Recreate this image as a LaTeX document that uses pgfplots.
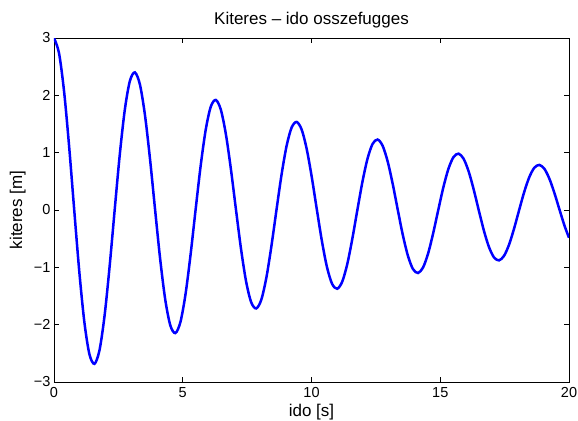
\documentclass[border=0pt]{standalone}
\usepackage{fontspec}
\setmainfont{Liberation Sans}
\usepackage{pgfplots}
\pgfplotsset{compat=1.18}
\begin{document}
\begin{tikzpicture}
\path[use as bounding box] (-54bp,-39bp) rectangle (524bp,382bp);
\begin{axis}[
  scale only axis, width=515bp, height=344bp,
  at={(0,0)}, anchor=south west,
  xmin=0, xmax=20, ymin=-3, ymax=3,
  xtick={0,5,10,15,20}, xticklabels={0,5,10,15,20},
  ytick={-3,-2,-1,0,1,2,3}, yticklabels={−3,−2,−1,0,1,2,3},
  tick align=inside, major tick length=5bp,
  axis line style={line width=0.8bp, black},
  every tick/.style={black, line width=0.8bp},
  tick label style={font=\fontsize{14.5bp}{17bp}\selectfont},
  xticklabel style={yshift=-2bp},
  label style={font=\fontsize{17bp}{20bp}\selectfont},
  title style={font=\fontsize{17bp}{20bp}\selectfont, at={(axis description cs:0.5,1.0233)}, anchor=base},
  xlabel style={at={(axis description cs:0.5,-0.1017)}, anchor=base},
  ylabel style={at={(axis description cs:-0.0621,0.5)}, anchor=base},
  title={Kiteres – ido osszefugges},
  xlabel={ido [s]},
  ylabel={kiteres [m]},
]
\addplot[color={rgb,1:red,0;green,0;blue,1}, line width=2.5bp, smooth] coordinates {
(0,3) (0.19635,2.733) (0.39270,2.063) (0.58905,1.101) (0.78540,0) (0.98175,-1.071) (1.17810,-1.951) (1.37445,-2.514)
(1.57080,-2.683) (1.76715,-2.445) (1.96350,-1.845) (2.15984,-0.985) (2.35619,0) (2.55254,0.958) (2.74889,1.745) (2.94524,2.248)
(3.14159,2.4) (3.33794,2.187) (3.53429,1.650) (3.73064,0.881) (3.92699,0) (4.12334,-0.857) (4.31969,-1.561) (4.51604,-2.011)
(4.71239,-2.147) (4.90874,-1.956) (5.10509,-1.476) (5.30144,-0.788) (5.49779,0) (5.69414,0.766) (5.89049,1.396) (6.08684,1.799)
(6.28319,1.92) (6.47953,1.749) (6.67588,1.320) (6.87223,0.705) (7.06858,0) (7.26493,-0.685) (7.46128,-1.249) (7.65763,-1.609)
(7.85398,-1.717) (8.05033,-1.565) (8.24668,-1.181) (8.44303,-0.630) (8.63938,0) (8.83573,0.613) (9.03208,1.117) (9.22843,1.439)
(9.42478,1.536) (9.62113,1.399) (9.81748,1.056) (10.01383,0.564) (10.21018,0) (10.40653,-0.548) (10.60288,-0.999) (10.79922,-1.287)
(10.99557,-1.374) (11.19192,-1.252) (11.38827,-0.945) (11.58462,-0.504) (11.78097,0) (11.97732,0.490) (12.17367,0.893) (12.37002,1.151)
(12.56637,1.229) (12.76272,1.120) (12.95907,0.845) (13.15542,0.451) (13.35177,0) (13.54812,-0.439) (13.74447,-0.799) (13.94082,-1.030)
(14.13717,-1.099) (14.33352,-1.001) (14.52987,-0.756) (14.72622,-0.403) (14.92257,0) (15.11891,0.392) (15.31526,0.715) (15.51161,0.921)
(15.70796,0.983) (15.90431,0.896) (16.10066,0.676) (16.29701,0.361) (16.49336,0) (16.68971,-0.351) (16.88606,-0.639) (17.08241,-0.824)
(17.27876,-0.879) (17.47511,-0.801) (17.67146,-0.605) (17.86781,-0.323) (18.06416,0) (18.26051,0.314) (18.45686,0.572) (18.65321,0.737)
(18.84956,0.786) (19.04591,0.717) (19.24226,0.541) (19.43861,0.289) (19.63495,0) (19.83130,-0.281) (20,-0.483)
};
\end{axis}
\end{tikzpicture}
\end{document}
